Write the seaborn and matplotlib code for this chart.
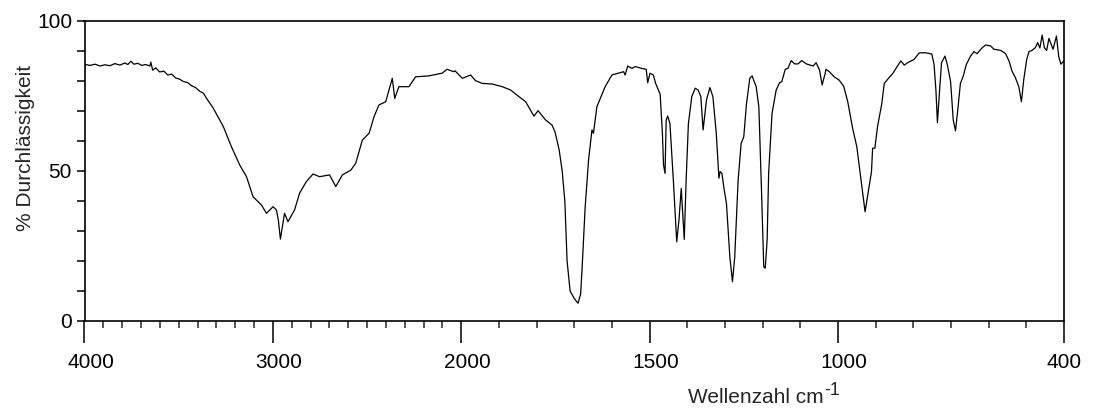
import numpy as np
import pandas as pd
import matplotlib
matplotlib.use("Agg")
import matplotlib.pyplot as plt
import matplotlib.transforms as mtransforms
from matplotlib.ticker import FixedLocator
import seaborn as sns

# ── spectrum, in blocks (wavenumber cm-1, % transmittance)
wn_oh = [3997, 3971, 3944, 3918, 3892, 3865, 3839, 3812, 3786, 3770, 3754, 3738,
         3717, 3696, 3675, 3653, 3648, 3638, 3622, 3601, 3579, 3558, 3537, 3516,
         3495, 3474, 3453, 3431, 3410, 3389, 3368, 3352]
t_oh = [85.5, 85.2, 85.6, 85.0, 85.4, 85.1, 85.8, 85.3, 86.0, 85.5, 86.6, 85.6,
        85.9, 85.2, 85.5, 85.0, 86.3, 83.6, 84.4, 83.0, 83.3, 82.0, 82.3, 81.0,
        80.6, 79.8, 79.5, 78.4, 77.8, 76.6, 75.9, 74.2]

wn_ch = [3316, 3263, 3220, 3176, 3140, 3105, 3061, 3034, 2999, 2981, 2971, 2960,
         2938, 2920, 2885, 2858, 2823, 2787, 2752, 2699]
t_ch = [70.9, 64.8, 58.1, 52.0, 48.1, 41.4, 38.7, 35.9, 38.1, 37.0, 33.7, 27.3,
        35.9, 33.1, 37.0, 42.6, 46.4, 49.0, 48.1, 48.7]

wn_mid = [2666, 2631, 2586, 2560, 2525, 2489, 2463, 2437, 2401, 2366, 2353, 2331,
          2278, 2242, 2172, 2102, 2075, 2040, 2033]
t_mid = [44.8, 48.7, 50.3, 52.6, 60.3, 62.6, 68.1, 72.0, 73.1, 80.9, 74.2, 78.1,
         78.1, 81.4, 81.7, 82.6, 83.9, 83.1, 83.4]

wn_co = [1997, 1975, 1962, 1944, 1918, 1891, 1869, 1847, 1829, 1807, 1796, 1776,
         1759, 1751, 1740, 1732, 1725, 1719, 1711, 1700, 1690, 1683, 1679, 1671,
         1662, 1653, 1649, 1640, 1618, 1600, 1583, 1569, 1565, 1558, 1547, 1538,
         1521, 1509, 1505, 1499, 1490, 1484]
t_co = [80.9, 82.0, 80.1, 79.2, 79.0, 78.1, 77.0, 74.8, 73.1, 68.3, 70.1, 67.0,
        65.3, 63.0, 57.0, 50.0, 40.0, 20.0, 10.0, 7.5, 5.9, 9.0, 18.0, 38.0,
        53.7, 63.7, 62.6, 71.4, 78.1, 82.0, 82.6, 83.1, 82.0, 85.0, 84.2, 84.8,
        84.2, 83.9, 79.4, 82.6, 82.0, 79.2]

wn_fp1 = [1472, 1466, 1463, 1459, 1456, 1452, 1446, 1437, 1428, 1422, 1416, 1412,
          1408, 1403, 1397, 1388, 1379, 1371, 1364, 1358, 1349, 1340, 1332, 1323,
          1316, 1313, 1308, 1302, 1296, 1287, 1280, 1274, 1265, 1257, 1250, 1243,
          1234, 1228, 1217, 1210, 1203, 1197, 1193, 1188, 1184, 1175, 1164, 1155]
t_fp1 = [75.6, 62.6, 52.0, 49.2, 67.0, 68.3, 65.8, 47.0, 26.4, 33.7, 44.2, 35.9,
         27.2, 47.0, 65.8, 74.8, 77.6, 77.0, 74.8, 63.7, 73.7, 77.8, 74.8, 62.6,
         47.6, 49.8, 49.2, 43.7, 39.2, 21.4, 13.1, 21.4, 47.0, 59.2, 61.4, 72.2,
         80.9, 81.7, 78.1, 71.4, 43.7, 18.1, 17.6, 27.0, 49.2, 69.2, 77.0, 79.4]

wn_fp2 = [1149, 1140, 1133, 1124, 1115, 1106, 1096, 1084, 1066, 1058, 1049, 1042,
          1034, 1032, 1023, 1010, 997, 985, 974, 961, 950, 941, 928, 920, 911,
          908, 902, 895, 884, 877, 864, 855, 842, 833, 824, 815, 798, 784]
t_fp2 = [79.8, 83.9, 84.2, 86.8, 85.7, 85.7, 86.8, 85.7, 85.0, 86.1, 83.7, 78.7,
         82.5, 83.9, 83.1, 81.4, 80.3, 78.3, 73.1, 64.2, 58.1, 49.2, 36.4, 42.6, 49.8,
         57.6, 57.6, 64.8, 72.2, 79.2, 81.2, 82.4, 85.0, 86.7, 85.3, 86.1, 87.2, 89.4]

wn_low = [767, 751, 745, 740, 736, 729, 725, 716, 710, 701, 694, 688, 682, 675,
          668, 659, 648, 639, 631, 617, 608, 595, 586, 568, 555, 546, 538, 529,
          520, 513, 507, 499, 493, 485, 476, 470, 464, 458, 452, 446, 440, 434,
          429, 420, 414, 408, 402]
t_low = [89.4, 89.0, 85.6, 77.0, 66.1, 79.2, 86.1, 88.3, 85.6, 79.8, 67.0, 63.4,
         70.3, 79.2, 81.4, 85.6, 88.3, 89.8, 89.1, 91.1, 92.0, 91.7, 90.6, 90.2,
         89.1, 86.7, 83.3, 81.1, 78.1, 73.1, 80.3, 87.2, 89.8, 90.2, 91.1, 92.8,
         91.0, 95.3, 91.1, 90.2, 94.2, 92.2, 90.6, 95.0, 88.1, 85.6, 86.5]

x_major = [4000, 3000, 2000, 1500, 1000, 400]
y_ticks = list(range(0, 101, 10))
y_labels = ["0", "", "", "", "", "50", "", "", "", "", "100"]

wavenumber = wn_oh + wn_ch + wn_mid + wn_co + wn_fp1 + wn_fp2 + wn_low
transmission = t_oh + t_ch + t_mid + t_co + t_fp1 + t_fp2 + t_low
df = pd.DataFrame({"wn": wavenumber, "T": transmission})

sns.set_style("ticks")
plt.rcParams["font.family"] = ["Liberation Sans", "DejaVu Sans"]


# IR axis: 4000-2000 compressed to half the scale of 2000-400
def fwd(w):
    w = np.asarray(w, dtype=float)
    return np.where(w >= 2000, (w - 2000) * 0.5, w - 2000)


def inv(u):
    u = np.asarray(u, dtype=float)
    return np.where(u >= 0, 2000 + 2 * u, 2000 + u)


fig = plt.figure(figsize=(10.95, 4.08), dpi=100)
ax = fig.add_axes([84.5 / 1095, 87 / 408, (1064 - 84.5) / 1095, 300 / 408])

sns.lineplot(data=df, x="wn", y="T", ax=ax, color="black", linewidth=0.9,
             estimator=None, sort=False)

ax.set_xscale("function", functions=(fwd, inv))
ax.set_xlim(4000, 400)
ax.set_ylim(0, 100)

ax.xaxis.set_major_locator(FixedLocator(x_major))
ax.xaxis.set_minor_locator(FixedLocator([w for w in range(400, 4001, 100) if w not in x_major]))
ax.set_xticklabels([str(v) for v in x_major])
ax.set_yticks(y_ticks)
ax.set_yticklabels(y_labels)

ax.tick_params(axis="x", which="major", length=16, width=1.1, direction="out",
               labelsize=15, pad=7, colors="black")
ax.tick_params(axis="x", which="minor", length=5, width=1.1, direction="out")
ax.tick_params(axis="y", which="major", length=6, width=1.1, direction="out",
               labelsize=15, pad=3, colors="black")

# four digit labels sit a bit right of their tick in the original
shift = mtransforms.ScaledTranslation(6 / 100, 0, fig.dpi_scale_trans)
for lab in ax.get_xticklabels():
    if len(lab.get_text()) == 4:
        lab.set_transform(lab.get_transform() + shift)

for s in ax.spines.values():
    s.set_visible(True)
    s.set_linewidth(1.2)
    s.set_color("black")

ax.set_xlabel("")
ax.set_ylabel("")

# x label with a plain hyphen superscript, as in the original
xl = fig.text(688 / 1095, 5 / 408, "Wellenzahl cm", ha="left", va="baseline", fontsize=15)
renderer = fig.canvas.get_renderer()
bb = xl.get_window_extent(renderer=renderer)
fig.text((bb.x1 + 1) / 1095, 13 / 408, "-1", ha="left", va="baseline", fontsize=13)

fig.text(26 / 1095, (408 - 148) / 408, "% Durchlässigkeit", rotation=90,
         ha="center", va="center", fontsize=15)

fig.savefig("out.png", dpi=100)
